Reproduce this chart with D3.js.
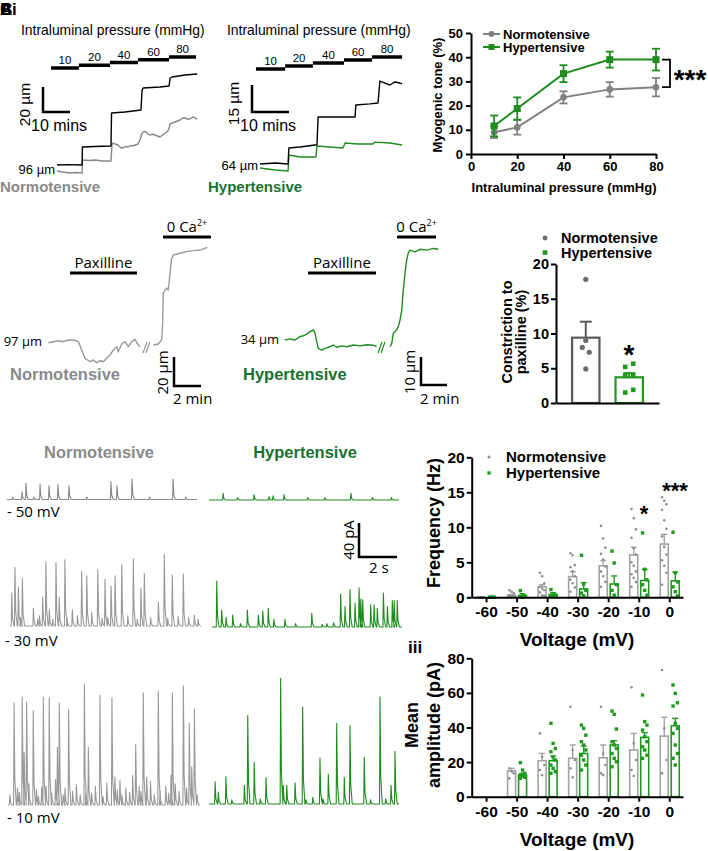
<!DOCTYPE html>
<html><head><meta charset="utf-8">
<script src="https://cdn.jsdelivr.net/npm/d3@7"></script>
<style>body{margin:0;background:#fff}svg{display:block}</style>
</head><body>
<svg id="fig" width="708" height="851"></svg>
<script>
// ================= DATA =================
const pressures = [10, 20, 40, 60, 80];
// Ai (normotensive) pressure-step times (min) and diameters (µm)
const aiStepTimes = [-2.2, 8.1, 19.6, 30, 41.5, 51.5];
const aiPassive = [[0,101.6],[4,101.9],[9.3,101.6],[9.4,116],[14,116.4],[20,116.8],[20.2,143.2],[25.2,144],[31.1,145.6],[31.5,161.6],[31.9,163.2],[38.1,164],[41.5,164.8],[41.9,171.2],[42.6,172],[47.4,173.6],[51.9,174.4]];
const aiActive = [[0,96.8],[2,96],[4.8,95.2],[7,95.6],[9.3,95.2],[9.4,105.6],[12,105.2],[14.1,105.6],[17,104.8],[20,104.8],[20.4,119.2],[21.5,118.4],[22.6,117.6],[23.5,115.6],[24.4,115.2],[25.3,116.4],[26.3,116],[27.2,117.2],[28.1,116.8],[29,117.6],[30,118.4],[30.8,122],[31.5,127.2],[32.2,128.4],[33,128],[33.7,126.4],[34.4,125.6],[35.3,126.2],[36.3,125.6],[37.2,124.8],[38.1,124],[38.9,125.2],[39.6,126.4],[40.4,127.6],[41.1,128.8],[41.5,131.2],[41.9,134.4],[42.8,135.2],[43.7,136],[44.6,136.8],[45.6,137.6],[46.5,139.2],[47.4,139.2],[48.3,138.4],[49.3,138.4],[50,139.6],[50.7,140],[51.3,138.8],[51.9,138.4]];
// Aii (hypertensive)
const aiiStepTimes = [-1.1, 6.8, 14.3, 22.7, 30.3, 38.4];
const aiiPassive = [[0,66.2],[4.1,66.8],[7.6,66.2],[7.8,75.1],[10.8,75.7],[15.4,76.9],[15.7,92.3],[20.3,92.3],[25.7,92.3],[25.9,99],[29.7,99.6],[31.9,100.1],[32.4,112.3],[33.8,111.2],[35.1,110.1],[36.5,111.8],[37.8,111.2],[38.4,110.7]];
const aiiActive = [[0,64],[4.1,62.9],[7.6,62.3],[7.8,71.2],[10.8,70.1],[15.1,70.1],[15.4,76.2],[18.9,75.7],[22.4,75.1],[23,77.9],[26.5,77.3],[30.5,77.3],[31.1,78.4],[35.1,77.9],[38.4,76.8]];
// Aiii myogenic tone (%)
const myoNormo = [9.0, 11.0, 23.4, 26.7, 27.6];
const myoNormoErr = [2.4, 3.0, 2.5, 3.0, 3.8];
const myoHyper = [11.6, 18.8, 33.2, 39.0, 39.0];
const myoHyperErr = [4.3, 4.6, 3.5, 3.3, 4.5];
// B paxilline traces (time min, diameter µm)
const bNormoPre = [[0.02,96.5],[0.39,97.2],[0.76,97.9],[1.13,97.2],[1.5,98.4],[1.88,98.4],[2.25,97.2],[2.5,91.5],[2.74,85.8],[3.11,83.4],[3.36,84.6],[3.6,82.7],[3.85,84.1],[4.1,83.4],[4.35,85.8],[4.59,88],[4.84,91.5],[5.09,93.8],[5.21,90.3],[5.46,95.6],[5.7,97.2],[5.95,93.8],[6.2,97.2],[6.44,98.8],[6.69,94.9],[6.81,93.8]];
const bNormoPost = [[7.8,94.9],[8.17,95.6],[8.42,98.4],[8.49,109.9],[8.54,130.6],[8.67,132.9],[8.79,134],[8.91,132.9],[9.04,144.4],[9.16,154.7],[9.28,157],[9.78,158.2],[10.27,159.3],[10.76,160],[11.26,160.4],[11.8,162.3]];
const bNormoPax = [1.63, 6.59], bNormoCa = [8.52, 12.07];
const bHyperPre = [[0,34],[0.38,34.4],[0.77,34],[1.15,35.2],[1.41,35.5],[1.67,36.1],[1.92,37],[2.18,37.6],[2.31,36.4],[2.44,33.4],[2.56,31],[2.82,30.4],[3.08,31],[3.46,31.6],[3.72,32.2],[3.97,31.4],[4.36,31.9],[4.74,31.6],[5.26,32.2],[5.77,31.9],[6.28,32.3],[6.79,32.1],[7.05,31.6]];
const bHyperPost = [[8.08,31.6],[8.21,32.8],[8.33,36.4],[8.59,37.6],[8.72,38.8],[8.85,41.1],[8.98,44.7],[9.1,51.9],[9.23,57.8],[9.36,62.6],[9.48,65],[9.62,66.1],[10,65.5],[10.38,66.4],[10.9,66.1],[11.41,66.7],[11.79,66.4]];
const bHyperPax = [1.77, 7.0], bHyperCa = [8.62, 11.62];
// B bar chart: constriction to paxilline (%)
const paxGroups = ["Normotensive", "Hypertensive"];
const paxMeans = [9.4, 3.7];
const paxErr = [2.3, 0.6];
const paxNormoPts = [17.8, 9.0, 8.0, 7.3, 4.9];
const paxHyperPts = [5.2, 5.65, 3.9, 4.0, 1.5, 1.9];
// C current traces: spikes [time s, amplitude pA]
const n50 = [[0.79,9],[1.0,19],[1.74,18],[2.21,16],[2.68,18],[3.26,16],[5.47,21],[5.79,16],[6.58,24],[8.74,24],[0.3,3],[1.4,3],[4.2,3],[7.5,3],[9.4,3]];
const h50 = [[0.74,8],[2.37,6],[3.16,4],[3.37,5],[3.95,6],[7.47,8],[1.5,3],[5.2,3],[6.1,3],[8.6,3],[9.6,3]];
const n30 = [[0.09,39],[0.26,69],[0.44,46],[0.65,56],[1.23,21],[1.72,34],[1.89,76],[2.07,19],[2.42,75],[2.59,34],[2.89,78],[3.28,19],[3.77,64],[4.04,59],[4.3,16],[4.62,66],[5.0,55],[5.32,47],[5.53,59],[5.88,72],[6.49,79],[6.89,44],[7.07,62],[7.81,28],[8.12,84],[8.54,60],[9.12,61],[9.7,13],[0.55,10],[1.45,8],[3.0,10],[3.55,12],[4.85,9],[6.2,12],[7.4,10],[8.3,9],[9.4,10],[2.25,8],[1.55,12],[5.15,10],[6.7,8],[8.85,11],[9.9,8]];
const h30 = [[0.25,54],[0.51,20],[0.74,11],[1.09,14],[1.86,20],[2.44,14],[2.67,19],[2.96,22],[3.26,9],[3.84,9],[5.25,16],[6.04,4],[6.77,39],[7.0,24],[7.26,44],[7.53,28],[7.74,46],[7.83,33],[7.93,32],[8.35,26],[8.53,26],[8.7,22],[9.02,40],[9.23,24],[9.49,31],[9.59,31],[9.75,31],[1.5,4],[4.4,4],[5.8,3],[6.4,5]];
const n10 = [[0.32,120],[0.75,127],[0.85,62],[0.98,121],[1.33,111],[1.77,21],[1.86,127],[2.17,126],[2.6,68],[2.7,120],[3.19,112],[4.02,142],[4.23,68],[4.84,129],[5.47,126],[5.63,33],[5.89,29],[6.56,35],[6.72,71],[7.12,132],[7.3,33],[7.91,134],[8.58,35],[8.65,132],[9.23,140],[9.54,96],[9.67,45],[9.81,113],
  [0.1,12],[0.5,20],[0.6,15],[1.1,25],[1.5,18],[1.6,10],[2.0,22],[2.3,14],[2.5,30],[2.9,12],[3.0,20],[3.4,16],[3.6,24],[3.8,12],[4.1,18],[4.4,14],[4.6,22],[5.0,10],[5.2,26],[5.75,18],[6.0,12],[6.2,20],[6.4,15],[6.9,22],[7.0,16],[7.5,28],[7.7,12],[8.0,18],[8.3,22],[8.45,14],[8.8,25],[9.0,16],[9.4,20],[9.95,12]];
const h10 = [[0.32,26],[0.49,14],[0.89,32],[1.86,22],[2.04,104],[2.38,49],[3.0,31],[3.77,148],[3.91,22],[4.09,22],[4.53,25],[4.93,114],[5.46,8],[5.84,54],[6.28,35],[6.72,95],[7.12,31],[7.42,92],[8.17,55],[9.0,126],[9.58,22],[9.79,62],[1.2,5],[2.7,6],[5.1,5],[6.0,6],[8.5,5],[9.3,6]];
// C frequency (Hz)
const voltages = [-60, -50, -40, -30, -20, -10, 0];
const freqNormo = [0, 0.3, 1.5, 2.95, 4.5, 6.05, 7.6];
const freqNormoErr = [0, 0.1, 0.3, 0.7, 0.75, 1.1, 1.4];
const freqHyper = [0, 0.25, 0.4, 1.2, 1.9, 2.4, 2.35];
const freqHyperErr = [0, 0.25, 0.25, 0.9, 1.15, 1.6, 1.25];
const freqNormoPts = [[0,0,0,0,0,0,0,0,0,0],[1.0,0.8,0.6,0.3,0.2,0.1,0,0],[3.5,3.0,2.0,1.5,1.2,1.0,0.7,0.3,0.2],[6.3,6.0,4.6,4.3,3.7,3.0,2.5,2.0,1.4,0.8],[10.2,8.4,7.1,6.2,5.4,4.4,3.7,3.0,2.2,1.5],[12.6,11.3,9.7,8.5,7.0,6.1,5.0,4.5,3.7,3.3,2.8,2.2,1.5],[14.3,13.8,13.3,12.5,11.0,9.8,8.7,7.2,6.1,5.3,4.5,3.5,1.8]];
const freqHyperPts = [[0,0,0,0,0],[0.95,0.3,0.15,0.1,0],[1.1,0.5,0.3,0.2,0.1],[6.0,1.9,1.0,0.6,0.2],[6.6,4.9,1.8,1.0,0.3],[9.2,4.0,2.5,1.8,1.0,0.3],[9.3,3.5,2.2,1.5,0.8,0.2]];
// C mean amplitude (pA); -60 mV has no events
const ampNormo = [null, 15.0, 20.8, 22.2, 22.5, 27.0, 35.0];
const ampNormoErr = [null, 1.4, 4.2, 7.7, 7.4, 9.6, 10.9];
const ampHyper = [null, 12.5, 20.8, 25.0, 29.9, 34.3, 41.0];
const ampHyperErr = [null, 1.0, 2.7, 4.3, 2.5, 2.7, 4.3];
const ampNormoPts = [[], [16.4,14.5,13.5,10.6], [36.6,23,18.3,15.4,12.5], [52,27,21.2,16.4,11.2], [52,25,18.3,13.5,12.5], [63.2,30.8,21.2,15.4,12], [73.2,39.5,21.2,13.5]];
const ampHyperPts = [[], [19.7,15.4,13.5,12.5,12,11.2,10.6], [42.4,30.8,27.9,26,23,21.2,18.3,16.4,14.5,13.5], [41.4,39.5,35.6,31.8,29.9,27,24,21.2,18.3,15.4], [49.5,47.6,39.1,31.8,29.9,27.9,25,22.2,20.2,17.3], [58.8,43.4,41.4,38.5,34.7,31.8,28.9,27,24,22.2], [64.6,59.7,54.3,52.4,42.4,39.5,36.6,29.9,25,22.2,18.3]];

// ================= STYLE / HELPERS =================
const svg = d3.select("#fig");
const FONT = "'Liberation Sans', Arial, sans-serif";
const FONT2 = "'Open Sans', 'Liberation Sans', sans-serif";
const GRAY = "#8c8c8c", TGRAY = "#8a8a8a", GREEN = "#1f8c1f", DGREEN = "#1a7230";

function txt(x, y, s, o = {}) {
  const t = svg.append("text").attr("x", x).attr("y", y).text(s)
    .attr("font-family", o.family || FONT).attr("font-size", o.size || 12)
    .attr("font-weight", o.weight || "normal").attr("fill", o.fill || "#000")
    .attr("text-anchor", o.anchor || "start");
  if (o.rotate) t.attr("transform", `rotate(${o.rotate},${x},${y})`);
  return t;
}
function ln(x1, y1, x2, y2, color, w) {
  return svg.append("line").attr("x1", x1).attr("y1", y1).attr("x2", x2).attr("y2", y2)
    .attr("stroke", color || "#000").attr("stroke-width", w || 2);
}
function path(data, xs, ys, color, w) {
  svg.append("path").datum(data).attr("fill", "none").attr("stroke", color)
    .attr("stroke-width", w || 1.3).attr("stroke-linejoin", "round")
    .attr("d", d3.line().x(d => xs(d[0])).y(d => ys(d[1])));
}
function styleAxis(g, size) {
  g.selectAll("path.domain").attr("stroke", "#000").attr("stroke-width", 2);
  g.selectAll(".tick line").attr("stroke", "#000").attr("stroke-width", 2);
  g.selectAll(".tick text").attr("font-family", FONT).attr("font-weight", "bold")
    .attr("font-size", size).attr("fill", "#000");
}
function caText(cx, y) {
  const t = svg.append("text").attr("x", cx).attr("y", y).attr("text-anchor", "middle")
    .attr("font-family", FONT2).attr("font-size", 15);
  t.append("tspan").text("0 Ca");
  t.append("tspan").text("2+").attr("font-size", 9).attr("dy", -6);
}

// Panel letters (overlapping, as in the source image)
["B", "C", "A"].forEach(l => txt(0, 15, l, { size: 17, weight: "bold" }));
txt(12, 15, "i", { size: 17, weight: "bold" });

// ================= Ai / Aii pressure traces =================
function pressurePanel(c) {
  const xs = d3.scaleLinear().domain([0, 10]).range([c.x0, c.x0 + c.px10]);
  const ys = d3.scaleLinear().domain([c.base, c.base + c.barUm]).range([c.y0, c.y0 - c.pxBar]);
  const stepY = d3.scaleLinear().domain([0, 4]).range(c.stepYRange);
  txt(c.titleX, 35, "Intraluminal pressure (mmHg)", { size: 13.9 });
  pressures.forEach((p, i) => {
    const xa = xs(c.steps[i]), xb = xs(c.steps[i + 1]), y = stepY(i);
    ln(xa, y, xb, y, "#000", 3.5);
    txt((xa + xb) / 2, y - 4, p, { size: 11.5, anchor: "middle" });
  });
  path(c.active, xs, ys, c.activeColor, 1.4);
  path(c.passive, xs, ys, "#000", 1.4);
  // scale bar
  const sx = c.sbX, sy = c.sbY;
  const vlen = ys(c.base) - ys(c.base + c.barUm), hlen = xs(10) - xs(0);
  svg.append("path").attr("fill", "none").attr("stroke", "#000").attr("stroke-width", 2.5)
    .attr("d", `M${sx},${sy - vlen}V${sy}H${sx + hlen}`);
  txt(sx - 13, sy - vlen / 2 + 5, c.barLabel, { size: 15.5, anchor: "middle", rotate: -90 });
  txt(sx - 12, sy + 19, "10 mins", { size: 16 });
  txt(c.x0 - 2, ys(c.base) + 2, c.base + " µm", { size: 13, anchor: "end" });
  txt(c.nameX, 192, c.name, { size: 15, weight: "bold", fill: c.nameColor });
}
pressurePanel({ x0: 57, px10: 27, base: 96, barUm: 20, y0: 172, pxBar: 25, steps: aiStepTimes,
  stepYRange: [68, 57], titleX: 21, active: aiActive, passive: aiPassive, activeColor: "#888",
  sbX: 43, sbY: 112, barLabel: "20 µm", name: "Normotensive", nameX: 0, nameColor: TGRAY });
pressurePanel({ x0: 260, px10: 37, base: 64, barUm: 15, y0: 168, pxBar: 27, steps: aiiStepTimes,
  stepYRange: [69, 57], titleX: 227, active: aiiActive, passive: aiiPassive, activeColor: GREEN,
  sbX: 252, sbY: 112, barLabel: "15 µm", name: "Hypertensive", nameX: 208, nameColor: DGREEN });

// ================= Aiii myogenic tone =================
{
  const x = d3.scaleLinear().domain([0, 80]).range([471, 656]);
  const y = d3.scaleLinear().domain([0, 50]).range([154, 33]);
  const gx = svg.append("g").attr("transform", "translate(0,154)")
    .call(d3.axisBottom(x).tickValues([0, 20, 40, 60, 80]).tickSize(5).tickSizeOuter(0).tickPadding(3));
  styleAxis(gx, 13);
  const gy = svg.append("g").attr("transform", "translate(471,0)")
    .call(d3.axisLeft(y).tickValues([0, 10, 20, 30, 40, 50]).tickSize(5).tickSizeOuter(0).tickPadding(3));
  styleAxis(gy, 13);
  txt(564, 192, "Intraluminal pressure (mmHg)", { size: 13, weight: "bold", anchor: "middle" });
  txt(442, 95, "Myogenic tone (%)", { size: 13, weight: "bold", anchor: "middle", rotate: -90 });
  const series = [[myoNormo, myoNormoErr, "#808080", "c"], [myoHyper, myoHyperErr, GREEN, "s"]];
  series.forEach(([vals, errs, col, shape]) => {
    vals.forEach((v, i) => {
      const cx = x(pressures[i]);
      ln(cx, y(v - errs[i]), cx, y(v + errs[i]), col, 1.8);
      ln(cx - 4, y(v + errs[i]), cx + 4, y(v + errs[i]), col, 1.8);
      ln(cx - 4, y(v - errs[i]), cx + 4, y(v - errs[i]), col, 1.8);
    });
    svg.append("path").datum(vals).attr("fill", "none").attr("stroke", col).attr("stroke-width", 2)
      .attr("d", d3.line().x((d, i) => x(pressures[i])).y(d => y(d)));
    vals.forEach((v, i) => {
      if (shape === "c") svg.append("circle").attr("cx", x(pressures[i])).attr("cy", y(v)).attr("r", 3.3).attr("fill", col);
      else svg.append("rect").attr("x", x(pressures[i]) - 3.5).attr("y", y(v) - 3.5).attr("width", 7).attr("height", 7).attr("fill", col);
    });
  });
  // legend
  ln(483, 34, 500, 34, "#808080", 2); svg.append("circle").attr("cx", 491.5).attr("cy", 34).attr("r", 3).attr("fill", "#808080");
  ln(483, 47, 500, 47, GREEN, 2); svg.append("rect").attr("x", 488.5).attr("y", 44).attr("width", 6).attr("height", 6).attr("fill", GREEN);
  txt(503, 38.5, "Normotensive", { size: 13, weight: "bold" });
  txt(503, 52, "Hypertensive", { size: 13, weight: "bold" });
  // significance bracket
  svg.append("path").attr("fill", "none").attr("stroke", "#000").attr("stroke-width", 1.8)
    .attr("d", `M662,${y(myoHyper[4])}H670V${y(myoNormo[4])}H662`);
  txt(690, 89, "***", { size: 28, weight: "bold", anchor: "middle" });
}

// ================= B paxilline traces =================
function paxPanel(c) {
  const xs = d3.scaleLinear().domain([0, 2]).range([c.x0, c.x0 + c.px2]);
  const ys = d3.scaleLinear().domain([c.base, c.base + c.barUm]).range([c.y0, c.y0 - c.pxBar]);
  path(c.pre, xs, ys, c.color, 1.4);
  path(c.post, xs, ys, c.color, 1.4);
  // break marks
  const bx = c.breakX;
  ln(bx, 353, bx + 4, 342, c.color, 1.2); ln(bx + 3, 353, bx + 7, 342, c.color, 1.2);
  ln(xs(c.pax[0]), 273, xs(c.pax[1]), 273, "#000", 3);
  txt((xs(c.pax[0]) + xs(c.pax[1])) / 2, 268, "Paxilline", { size: 15, family: FONT2, anchor: "middle" });
  ln(xs(c.ca[0]), 237, xs(c.ca[1]), 237, "#000", 3);
  caText((xs(c.ca[0]) + xs(c.ca[1])) / 2, 232);
  txt(c.x0 - 6, ys(c.base) + 4, c.base + " µm", { size: 13, family: FONT2, anchor: "end" });
  const vlen = ys(c.base) - ys(c.base + c.barUm), hlen = xs(2) - xs(0);
  svg.append("path").attr("fill", "none").attr("stroke", "#000").attr("stroke-width", 2.5)
    .attr("d", `M${c.sbX},${c.sbY - vlen}V${c.sbY}H${c.sbX + hlen}`);
  txt(c.sbX - 6, c.sbY - vlen / 2 + 1, c.barLabel, { size: 15, family: FONT2, anchor: "middle", rotate: -90 });
  txt(c.sbX - 1, 404, "2 min", { size: 15, family: FONT2 });
  txt(c.nameX, 380, c.name, { size: 16.5, weight: "bold", fill: c.nameColor });
}
paxPanel({ x0: 48, px2: 27, base: 97, barUm: 20, y0: 342, pxBar: 29, pre: bNormoPre, post: bNormoPost,
  color: "#999", breakX: 143, pax: bNormoPax, ca: bNormoCa, sbX: 174, sbY: 386, barLabel: "20 µm",
  name: "Normotensive", nameX: 10, nameColor: TGRAY });
paxPanel({ x0: 285, px2: 26, base: 34, barUm: 10, y0: 340, pxBar: 28, pre: bHyperPre, post: bHyperPost,
  color: GREEN, breakX: 378, pax: bHyperPax, ca: bHyperCa, sbX: 421, sbY: 385, barLabel: "10 µm",
  name: "Hypertensive", nameX: 243, nameColor: DGREEN });

// ================= B bar chart =================
{
  const x = d3.scaleBand().domain(paxGroups).range([556, 659]).paddingInner(0.37).paddingOuter(0.37);
  const y = d3.scaleLinear().domain([0, 20]).range([403, 264]);
  const cols = ["#5a5a5a", "#1f9a1f"];
  paxGroups.forEach((g, i) => {
    const bx = x(g), bw = x.bandwidth(), cx = bx + bw / 2, v = paxMeans[i];
    ln(cx, y(v), cx, y(v + paxErr[i]), cols[i], 2);
    ln(cx - 6, y(v + paxErr[i]), cx + 6, y(v + paxErr[i]), cols[i], 2);
    svg.append("rect").attr("x", bx).attr("y", y(v)).attr("width", bw).attr("height", y(0) - y(v))
      .attr("fill", "none").attr("stroke", cols[i]).attr("stroke-width", 2.2);
  });
  const cN = x(paxGroups[0]) + x.bandwidth() / 2, cH = x(paxGroups[1]) + x.bandwidth() / 2;
  paxNormoPts.forEach((v, i) => svg.append("circle").attr("cx", cN + [0, 0, -3.5, 3.5, 0][i]).attr("cy", y(v)).attr("r", 2.6).attr("fill", "#6a6a6a"));
  paxHyperPts.forEach((v, i) => svg.append("rect").attr("x", cH + (i % 2 ? 4 : -4) - 2.3).attr("y", y(v) - 2.3).attr("width", 4.6).attr("height", 4.6).attr("fill", "#1f9a1f"));
  const gx = svg.append("g").attr("transform", "translate(0,403)")
    .call(d3.axisBottom(x).tickSize(0).tickSizeOuter(0).tickFormat(""));
  styleAxis(gx, 14);
  const gy = svg.append("g").attr("transform", "translate(556,0)")
    .call(d3.axisLeft(y).tickValues([0, 5, 10, 15, 20]).tickSize(5).tickSizeOuter(0).tickPadding(2));
  styleAxis(gy, 14.5);
  txt(629, 364, "*", { size: 28, weight: "bold", anchor: "middle" });
  txt(512, 332, "Constriction to", { size: 14.5, weight: "bold", anchor: "middle", rotate: -90 });
  txt(526, 332, "paxilline (%)", { size: 14.5, weight: "bold", anchor: "middle", rotate: -90 });
  svg.append("circle").attr("cx", 545).attr("cy", 238).attr("r", 2.4).attr("fill", "#6a6a6a");
  svg.append("rect").attr("x", 542.7).attr("y", 250.2).attr("width", 4.6).attr("height", 4.6).attr("fill", "#1f9a1f");
  txt(561, 243, "Normotensive", { size: 14.5, weight: "bold" });
  txt(561, 258, "Hypertensive", { size: 14.5, weight: "bold" });
}

// ================= C current traces =================
function spikeLine(spikes) {
  const pts = [[0, 0]];
  spikes.slice().sort((a, b) => a[0] - b[0]).forEach(([t, a]) => {
    pts.push([t - 0.025, 0], [t, a], [t + 0.04, a * 0.25], [t + 0.12, 0]);
  });
  pts.push([10, 0]);
  return pts;
}
function currentTrace(spikes, x0, base, color) {
  const xs = d3.scaleLinear().domain([0, 10]).range([x0, x0 + 190]);
  const ys = d3.scaleLinear().domain([0, 40]).range([base, base - 34]);
  path(spikeLine(spikes), xs, ys, color, 1.1);
}
txt(99, 458, "Normotensive", { size: 16.5, weight: "bold", fill: TGRAY, anchor: "middle" });
txt(305, 458, "Hypertensive", { size: 16.5, weight: "bold", fill: DGREEN, anchor: "middle" });
currentTrace(n50, 7, 499.5, "#888");
currentTrace(h50, 209, 500, GREEN);
currentTrace(n30, 10, 626, "#999");
currentTrace(h30, 212, 627, GREEN);
currentTrace(n10, 8, 805, "#999");
currentTrace(h10, 209, 804, GREEN);
txt(7, 517, "- 50 mV", { size: 15, family: FONT2 });
txt(5, 646, "- 30 mV", { size: 15, family: FONT2 });
txt(7, 823, "- 10 mV", { size: 15, family: FONT2 });
{
  const sc = d3.scaleLinear().domain([0, 40]).range([0, 34]);
  const ts = d3.scaleLinear().domain([0, 10]).range([0, 190]);
  svg.append("path").attr("fill", "none").attr("stroke", "#000").attr("stroke-width", 2.5)
    .attr("d", `M359,${557 - sc(40)}V557H${359 + ts(2)}`);
  txt(354, 540, "40 pA", { size: 15, family: FONT2, anchor: "middle", rotate: -90 });
  txt(369, 573, "2 s", { size: 15, family: FONT2 });
}
txt(408, 653, "iii", { size: 17, weight: "bold" });

// ================= C frequency & amplitude charts =================
function barChart(c) {
  const x = d3.scaleLinear().domain([-64.7, 4.5]).range([471.7, 683]);
  const y = d3.scaleLinear().domain([0, c.ymax]).range([c.y0, c.ytop]);
  const groups = [[c.normo, c.normoErr, c.normoPts, "#a3a3a3", -5, "c"], [c.hyper, c.hyperErr, c.hyperPts, "#1f9a1f", 6, "s"]];
  groups.forEach(([m, e, pts, col, off, shape]) => {
    voltages.forEach((v, i) => {
      if (m[i] === null) return;
      const cx = x(v) + off;
      svg.append("rect").attr("x", cx - 4).attr("y", y(m[i])).attr("width", 8).attr("height", y(0) - y(m[i]))
        .attr("fill", "#fff").attr("stroke", col).attr("stroke-width", 1.6);
      if (e[i] > 0) {
        ln(cx, y(m[i]), cx, y(m[i] + e[i]), col, 1.4);
        ln(cx - 3, y(m[i] + e[i]), cx + 3, y(m[i] + e[i]), col, 1.4);
      }
      pts[i].forEach((p, j) => {
        const jx = cx + ((j % 3) - 1) * 2.2;
        if (shape === "c") svg.append("circle").attr("cx", jx).attr("cy", y(p)).attr("r", 1.3).attr("fill", "#8f8f8f");
        else svg.append("rect").attr("x", jx - 1.7).attr("y", y(p) - 1.7).attr("width", 3.4).attr("height", 3.4).attr("fill", "#1f9a1f");
      });
    });
  });
  const gx = svg.append("g").attr("transform", `translate(0,${c.y0})`)
    .call(d3.axisBottom(x).tickValues(voltages).tickSize(5).tickSizeOuter(0).tickPadding(4).tickFormat(d => String(d)));
  styleAxis(gx, 15.5);
  const gy = svg.append("g").attr("transform", "translate(471.7,0)")
    .call(d3.axisLeft(y).tickValues(c.ticks).tickSize(5).tickSizeOuter(0).tickPadding(2));
  styleAxis(gy, 15.5);
  txt(577, c.xTitleY, "Voltage (mV)", { size: 19, weight: "bold", anchor: "middle" });
}
barChart({ ymax: 20, y0: 597.3, ytop: 457.3, ticks: [0, 5, 10, 15, 20],
  normo: freqNormo, normoErr: freqNormoErr, normoPts: freqNormoPts,
  hyper: freqHyper, hyperErr: freqHyperErr, hyperPts: freqHyperPts, xTitleY: 646 });
txt(440, 523, "Frequency (Hz)", { size: 18, weight: "bold", anchor: "middle", rotate: -90 });
svg.append("circle").attr("cx", 489).attr("cy", 457).attr("r", 1.5).attr("fill", "#8f8f8f");
svg.append("rect").attr("x", 487.3).attr("y", 471.3).attr("width", 3.4).attr("height", 3.4).attr("fill", "#1f9a1f");
txt(506, 462, "Normotensive", { size: 15, weight: "bold" });
txt(506, 478, "Hypertensive", { size: 15, weight: "bold" });
txt(644, 521, "*", { size: 22, weight: "bold", anchor: "middle" });
txt(675, 498, "***", { size: 22, weight: "bold", anchor: "middle" });

barChart({ ymax: 80, y0: 796.7, ytop: 658.3, ticks: [0, 20, 40, 60, 80],
  normo: ampNormo, normoErr: ampNormoErr, normoPts: ampNormoPts,
  hyper: ampHyper, hyperErr: ampHyperErr, hyperPts: ampHyperPts, xTitleY: 846 });
txt(418, 725, "Mean", { size: 18, weight: "bold", anchor: "middle", rotate: -90 });
txt(440, 725, "amplitude (pA)", { size: 18, weight: "bold", anchor: "middle", rotate: -90 });
</script>
</body></html>
